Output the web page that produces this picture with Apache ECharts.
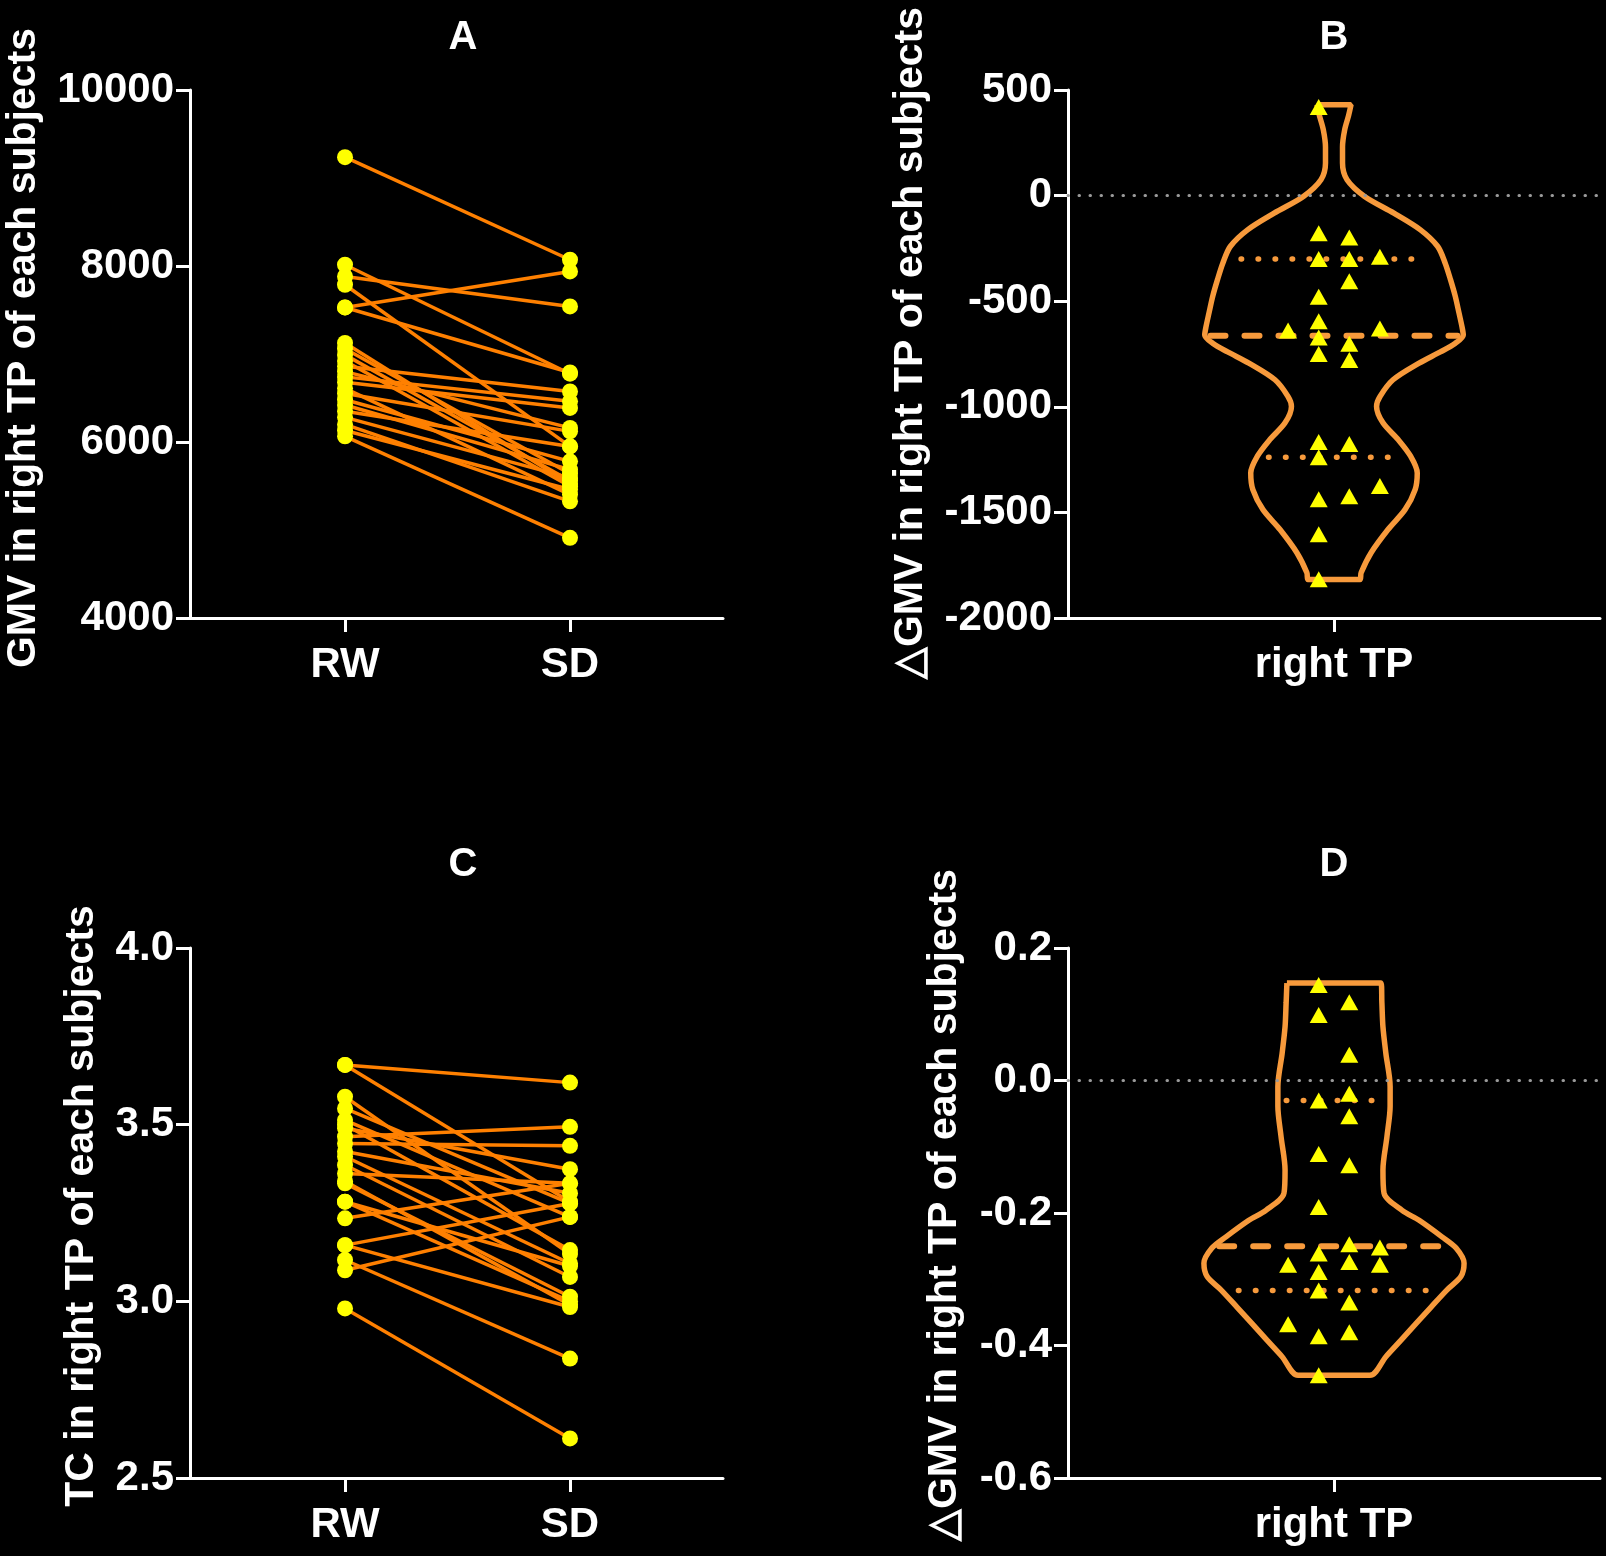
<!DOCTYPE html>
<html>
<head>
<meta charset="utf-8">
<title>GMV / TC in right TP</title>
<script src="https://cdn.jsdelivr.net/npm/echarts@6/dist/echarts.min.js"></script>
<style>
    html, body { margin: 0; padding: 0; background: #000; }
    #main { width: 1606px; height: 1556px; }
</style>
</head>
<body>
<div id="main"></div>
<script>
// 分组名称
var groups = ['RW', 'SD'];
var regionName = ['right TP'];

// 刻度
var gmvTicks = [4000, 6000, 8000, 10000];
var dGmvTicks = [-2000, -1500, -1000, -500, 0, 500];
var tcTicks = [2.5, 3.0, 3.5, 4.0];
var dTcTicks = [-0.6, -0.4, -0.2, 0.0, 0.2];

// A: 每个受试者的 GMV (RW -> SD)
var gmvRW = [9237, 8014, 7881, 7787, 7529, 7529, 7125, 7060, 6990, 6920, 6860, 6800,
             6740, 6680, 6610, 6550, 6480, 6420, 6350, 6280, 6200, 6130, 6064];
var gmvSD = [8071, 6776, 7541, 5951, 7938, 6790, 5522, 5640, 5560, 5497, 6575, 6160,
             6462, 6387, 5402, 6121, 5780, 5686, 5950, 5592, 5326, 5460, 4911];

// C: 每个受试者的 TC (RW -> SD)
var tcRW = [3.669, 3.669, 3.579, 3.546, 3.513, 3.500, 3.490, 3.466, 3.447, 3.424, 3.410, 3.386,
            3.362, 3.334, 3.340, 3.282, 3.282, 3.235, 3.159, 3.117, 3.088, 3.159, 2.980];
var tcSD = [3.619, 3.282, 3.134, 3.277, 3.239, 3.145, 3.374, 3.494, 3.440, 3.306, 3.107, 3.069,
            3.334, 3.013, 2.990, 3.000, 3.100, 3.334, 3.277, 2.838, 3.239, 2.984, 2.612];

// B: ΔGMV 散点 (值, 所在列)
var dGmv = [420, -178, -198, -300, -300, -290, -406, -479, -595, -639, -629, -672,
            -702, -750, -779, -1167, -1176, -1239, -1375, -1438, -1423, -1603, -1816];
var dGmvCol = [-0.5, -0.5, 0.5, -0.5, 0.5, 1.5, 0.5, -0.5, -0.5, -1.5, 1.5, -0.5,
               0.5, -0.5, 0.5, -0.5, 0.5, -0.5, 1.5, -0.5, 0.5, -0.5, -0.5];
// 四分位: 下四分位, 中位数, 上四分位
var dGmvQuart = [-1239, -663, -300];
// 小提琴轮廓 (水平, 半宽)
var dGmvLevels = [430, 380, 311, 230, 154, 75, -4, -83, -162, -241, -320, -398, -477, -556, -620,
                  -660, -700, -740, -793, -872, -951, -998, -1076, -1155, -1234, -1313, -1392,
                  -1487, -1581, -1692, -1786, -1818];
var dGmvWidths = [0.064, 0.055, 0.040, 0.032, 0.032, 0.049, 0.115, 0.225, 0.325, 0.390, 0.418, 0.438,
                  0.456, 0.470, 0.481, 0.486, 0.455, 0.400, 0.320, 0.222, 0.173, 0.160, 0.184, 0.241,
                  0.288, 0.313, 0.305, 0.267, 0.203, 0.139, 0.102, 0.098];

// D: ΔTC 散点
var dTc = [0.144, 0.118, 0.099, 0.039, -0.020, -0.030, -0.054, -0.111, -0.128, -0.191, -0.247, -0.252,
           -0.261, -0.274, -0.278, -0.278, -0.289, -0.317, -0.335, -0.368, -0.380, -0.386, -0.445];
var dTcCol = [-0.5, 0.5, -0.5, 0.5, 0.5, -0.5, 0.5, -0.5, 0.5, -0.5, 0.5, 1.5,
              -0.5, 0.5, -1.5, 1.5, -0.5, -0.5, 0.5, -1.5, 0.5, -0.5, -0.5];
var dTcQuart = [-0.317, -0.250, -0.030];
var dTcLevels = [0.147, 0.117, 0.081, 0.041, -0.009, -0.039, -0.085, -0.135, -0.170, -0.196, -0.211,
                 -0.236, -0.253, -0.276, -0.296, -0.316, -0.342, -0.367, -0.392, -0.417, -0.445];
var dTcWidths = [0.177, 0.180, 0.184, 0.195, 0.211, 0.211, 0.199, 0.184, 0.188, 0.256, 0.320,
                 0.406, 0.459, 0.489, 0.477, 0.425, 0.365, 0.308, 0.252, 0.195, 0.135];

// 样式
var FONT = 'Liberation Sans, Arial, sans-serif';
var WHITE = '#ffffff';
var LINE_ORANGE = '#FF8000';
var DOT_YELLOW = '#FFFF00';
var VIOLIN = '#F79A3C';
var colStep = 0.115;

var myChart = echarts.init(document.getElementById('main'));

// 小提琴闭合路径
function violinPath(levels, widths) {
    var left = [], right = [];
    for (var i = 0; i < levels.length; i++) {
        left.push([-widths[i], levels[i]]);
        right.unshift([widths[i], levels[i]]);
    }
    var pts = left.concat(right);
    pts.push(pts[0]);
    return pts;
}

// 某个水平上的小提琴半宽
function widthAt(levels, widths, v) {
    for (var i = 0; i < levels.length - 1; i++) {
        var a = levels[i], b = levels[i + 1];
        if ((v <= a && v >= b) || (v >= a && v <= b)) {
            var t = (v - a) / (b - a);
            return widths[i] + t * (widths[i + 1] - widths[i]);
        }
    }
    return widths[widths.length - 1];
}

function pairSeries(rw, sd, idx) {
    return rw.map(function (v, i) {
        return {
            type: 'line', xAxisIndex: idx, yAxisIndex: idx,
            data: [[0, v], [1, sd[i]]],
            symbol: 'circle', symbolSize: 16,
            lineStyle: { color: LINE_ORANGE, width: 3.5 },
            itemStyle: { color: DOT_YELLOW, opacity: 1 },
            silent: true, z: 2
        };
    });
}

function violinSeries(levels, widths, quart, vals, cols, idx) {
    var list = [];
    list.push({
        type: 'line', xAxisIndex: idx, yAxisIndex: idx,
        data: violinPath(levels, widths),
        smooth: 0.3, symbol: 'none',
        lineStyle: { color: VIOLIN, width: 5.5 },
        markLine: {
            silent: true, symbol: 'none', label: { show: false },
            lineStyle: { color: '#9a9a9a', width: 3, type: [0.5, 10.5], cap: 'round' },
            data: [{ yAxis: 0 }]
        },
        silent: true, z: 3
    });
    quart.forEach(function (q, k) {
        var isMedian = (k === 1);
        var hw = widthAt(levels, widths, q) * (isMedian ? 0.96 : 0.85);
        list.push({
            type: 'line', xAxisIndex: idx, yAxisIndex: idx,
            data: [[-hw, q], [hw, q]],
            symbol: 'none',
            lineStyle: isMedian
                ? { color: VIOLIN, width: 6, type: [15, 19], cap: 'round' }
                : { color: VIOLIN, width: 5.5, type: [0.5, 16.5], cap: 'round' },
            silent: true, z: 3
        });
    });
    list.push({
        type: 'scatter', xAxisIndex: idx, yAxisIndex: idx,
        data: vals.map(function (v, i) { return [cols[i] * colStep, v]; }),
        symbol: 'triangle', symbolSize: [18, 16],
        itemStyle: { color: DOT_YELLOW, opacity: 1 },
        silent: true, z: 5
    });
    return list;
}

var axisLineStyle = { color: WHITE, width: 3 };
var labelStyle = { color: WHITE, fontSize: 42, fontWeight: 'bold', fontFamily: FONT };

function nameStyle(shift) {
    return { color: WHITE, fontSize: 41, fontWeight: 'bold', fontFamily: FONT,
             padding: [0, 0, 0, shift] };
}

function pairXAxis(idx) {
    return {
        type: 'value', gridIndex: idx, min: -0.689, max: 1.68,
        axisLine: { onZero: false, lineStyle: axisLineStyle },
        axisTick: { customValues: [0, 1], length: 14, lineStyle: axisLineStyle },
        axisLabel: Object.assign({ customValues: [0, 1], margin: 26,
            formatter: function (v) { return groups[Math.round(v)]; } }, labelStyle),
        splitLine: { show: false }
    };
}

function violinXAxis(idx) {
    return {
        type: 'value', gridIndex: idx, min: -1, max: 1,
        axisLine: { onZero: false, lineStyle: axisLineStyle },
        axisTick: { customValues: [0], length: 14, lineStyle: axisLineStyle },
        axisLabel: Object.assign({ customValues: [0], margin: 26,
            formatter: function () { return regionName[0]; } }, labelStyle),
        splitLine: { show: false }
    };
}

function yAxisFrom(idx, ticks, name, gap, shift, digits) {
    return {
        type: 'value', gridIndex: idx,
        min: ticks[0], max: ticks[ticks.length - 1], interval: ticks[1] - ticks[0],
        name: name, nameLocation: 'middle', nameGap: gap, nameTextStyle: nameStyle(shift),
        axisLine: { onZero: false, lineStyle: axisLineStyle },
        axisTick: { length: 14, lineStyle: axisLineStyle },
        axisLabel: Object.assign({ margin: 16,
            formatter: function (v) {
                if (Math.abs(v) < 1e-9) v = 0;
                return digits ? v.toFixed(digits) : String(Math.round(v));
            } }, labelStyle),
        splitLine: { show: false }
    };
}

var titleStyle = { color: WHITE, fontSize: 40, fontWeight: 'bold', fontFamily: FONT };

var option = {
    backgroundColor: '#000',
    animation: false,
    title: [
        { text: 'A', left: 463, top: 18, textAlign: 'center', padding: 0, textStyle: titleStyle },
        { text: 'B', left: 1334, top: 18, textAlign: 'center', padding: 0, textStyle: titleStyle },
        { text: 'C', left: 463, top: 845, textAlign: 'center', padding: 0, textStyle: titleStyle },
        { text: 'D', left: 1334, top: 845, textAlign: 'center', padding: 0, textStyle: titleStyle }
    ],
    grid: [
        { left: 190, top: 90, width: 533, height: 528, outerBoundsMode: 'none' },
        { left: 1068, top: 90, width: 532, height: 528, outerBoundsMode: 'none' },
        { left: 190, top: 948, width: 533, height: 530, outerBoundsMode: 'none' },
        { left: 1068, top: 948, width: 532, height: 530, outerBoundsMode: 'none' }
    ],
    xAxis: [pairXAxis(0), violinXAxis(1), pairXAxis(2), violinXAxis(3)],
    yAxis: [
        yAxisFrom(0, gmvTicks, 'GMV in right TP of each subjects', 146, 12, 0),
        yAxisFrom(1, dGmvTicks, '\u25B3GMV in right TP of each subjects', 137, 22, 0),
        yAxisFrom(2, tcTicks, 'TC in right TP of each subjects', 88, 14, 1),
        yAxisFrom(3, dTcTicks, '\u25B3GMV in right TP of each subjects', 103, 16, 1)
    ],
    series: [].concat(
        pairSeries(gmvRW, gmvSD, 0),
        violinSeries(dGmvLevels, dGmvWidths, dGmvQuart, dGmv, dGmvCol, 1),
        pairSeries(tcRW, tcSD, 2),
        violinSeries(dTcLevels, dTcWidths, dTcQuart, dTc, dTcCol, 3)
    )
};

myChart.setOption(option);
</script>
</body>
</html>
